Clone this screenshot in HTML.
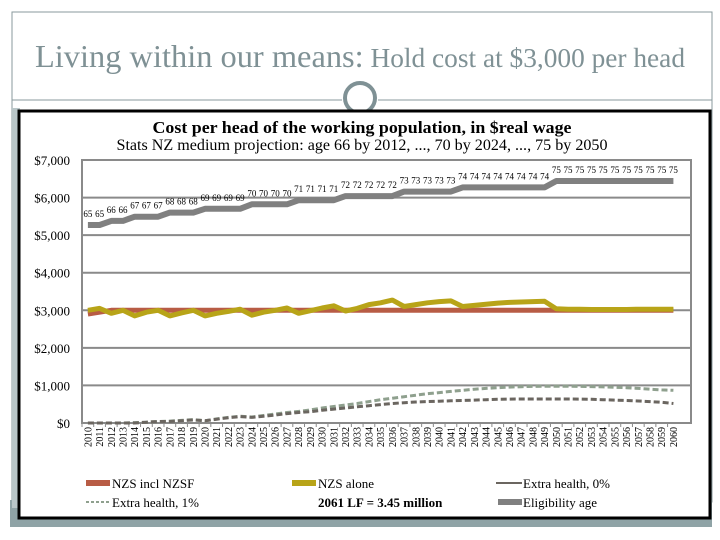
<!DOCTYPE html>
<html><head><meta charset="utf-8"><style>
html,body{margin:0;padding:0;background:#fff;}
svg{display:block;font-family:"Liberation Serif",serif;}
</style></head><body>
<svg id="chart" width="720" height="540" viewBox="0 0 720 540" xmlns="http://www.w3.org/2000/svg">
  <rect x="12" y="12" width="700" height="490" fill="none" stroke="#8a9a9c" stroke-width="1"/>
  <rect x="10" y="500" width="702" height="27" fill="#8fa3a6"/>
  <rect x="12" y="108" width="8" height="400" fill="#b9c6c8"/>
  <text x="360" y="67" text-anchor="middle" font-size="32" fill="#7f9195" textLength="650" lengthAdjust="spacingAndGlyphs"><tspan>Living within our means:</tspan><tspan font-size="27"> Hold cost at $3,000 per head</tspan></text>
  <line x1="12" y1="100" x2="342" y2="100" stroke="#8a9a9c" stroke-width="1"/>
  <line x1="378" y1="100" x2="712" y2="100" stroke="#8a9a9c" stroke-width="1"/>
  <circle cx="360" cy="98" r="15" fill="#fff" stroke="#7f9195" stroke-width="4"/>
  <rect x="19" y="111" width="691" height="407" fill="#fff" stroke="#000" stroke-width="3"/>
  <text x="362" y="133" text-anchor="middle" font-size="17" font-weight="bold" fill="#000" textLength="419" lengthAdjust="spacingAndGlyphs">Cost per head of the working population, in $real wage</text>
  <text x="362" y="150" text-anchor="middle" font-size="16" fill="#000" textLength="491" lengthAdjust="spacingAndGlyphs">Stats NZ medium projection: age 66 by 2012, ..., 70 by 2024, ..., 75 by 2050</text>
  <g id="grid"></g>
  <g id="xaxis"></g>
  <g id="series"></g>
  <g id="legend" font-size="13">
    <rect x="86" y="480" width="24" height="6" fill="#b85c45"/>
    <text x="112" y="488">NZS incl NZSF</text>
    <rect x="292" y="480" width="24" height="6" fill="#b8a418"/>
    <text x="318" y="488">NZS alone</text>
    <line x1="496" y1="483" x2="522" y2="483" stroke="#6b6660" stroke-width="2"/>
    <text x="523" y="488">Extra health, 0%</text>
    <line x1="86" y1="502" x2="110" y2="502" stroke="#8fa08e" stroke-width="2" stroke-dasharray="3,2"/>
    <text x="112" y="507">Extra health, 1%</text>
    <text x="318" y="507" font-weight="bold">2061 LF = 3.45 million</text>
    <rect x="498" y="499" width="24" height="6" fill="#808080"/>
    <text x="523" y="507">Eligibility age</text>
  </g>
</svg>
<script>
const years = [];
for (let y = 2010; y <= 2060; y++) years.push(y);
const yTicks = [0,1000,2000,3000,4000,5000,6000,7000];
const yTickLabels = ["$0","$1,000","$2,000","$3,000","$4,000","$5,000","$6,000","$7,000"];
const nzsInclNzsf = [2900,2950,3000,3000,3000,3000,3000,3000,3000,3000,3000,3000,3000,3000,3000,3000,3000,3000,3000,3000,3000,3000,3000,3000,3000,3000,3000,3000,3000,3000,3000,3000,3000,3000,3000,3000,3000,3000,3000,3000,3000,3000,3000,3000,3000,3000,3000,3000,3000,3000,3000];
const nzsAlone = [3000,3050,2920,3000,2850,2950,3000,2850,2930,3000,2850,2920,2970,3030,2870,2950,3000,3060,2920,2990,3060,3120,2980,3050,3150,3200,3270,3100,3150,3200,3230,3250,3100,3130,3160,3190,3210,3220,3230,3240,3040,3030,3030,3020,3020,3020,3020,3030,3030,3030,3030];
const extraHealth0 = [0,0,0,0,0,20,40,40,60,80,60,100,140,170,150,180,210,250,280,300,340,370,400,430,460,490,520,540,560,570,580,590,600,610,620,630,635,640,640,640,640,640,635,630,620,610,600,585,570,550,520];
const extraHealth1 = [0,0,0,0,10,20,40,50,70,90,60,110,150,180,160,200,240,280,310,350,400,440,480,520,570,620,660,700,740,780,810,840,870,900,920,940,955,965,975,980,980,980,975,970,960,950,940,920,900,880,870];
const eligibilityAge = [65,65,66,66,67,67,67,68,68,68,69,69,69,69,70,70,70,70,71,71,71,71,72,72,72,72,72,73,73,73,73,73,74,74,74,74,74,74,74,74,75,75,75,75,75,75,75,75,75,75,75];
const eligibilityCost = [5270,5270,5380,5380,5490,5490,5490,5600,5600,5600,5700,5700,5700,5700,5820,5820,5820,5820,5930,5930,5930,5930,6040,6040,6040,6040,6040,6160,6160,6160,6160,6160,6270,6270,6270,6270,6270,6270,6270,6270,6440,6440,6440,6440,6440,6440,6440,6440,6440,6440,6440];

const NS = "http://www.w3.org/2000/svg";
const plotL = 82, plotR = 691, plotTop = 160, plotBot = 423;
const band = (plotR - plotL) / 52;
function xPos(i){ return plotL + band * (i + 0.5); }
function yPos(v){ return plotBot - (v / 7000) * (plotBot - plotTop); }
function mk(tag, attrs, parent){ const e = document.createElementNS(NS, tag); for (const k in attrs) e.setAttribute(k, attrs[k]); parent.appendChild(e); return e; }

const grid = document.getElementById('grid');
yTicks.forEach((t, i) => {
  const ln = mk('line', {x1: plotL, x2: plotR, y1: yPos(t), y2: yPos(t), stroke: '#8a8a8a', 'stroke-width': 2}, grid);
  
  
  const tx = mk('text', {x: 70, y: yPos(t) + 5, 'text-anchor': 'end', 'font-size': 13}, grid);
  tx.textContent = yTickLabels[i];
  
  
});
const frame = mk('rect', {x: plotL, y: plotTop, width: plotR - plotL, height: plotBot - plotTop, fill: 'none', stroke: '#8a8a8a', 'stroke-width': 2}, grid);



const xa = document.getElementById('xaxis');
years.forEach((yr, i) => {
  const tk = mk('line', {x1: plotL + band * i, x2: plotL + band * i, y1: plotBot, y2: plotBot + 4, stroke: '#8a8a8a'}, xa);
  
  
  const x = xPos(i) + 3.5;
  const tx = mk('text', {x: x, y: plotBot + 4, 'text-anchor': 'end', 'font-size': 10, transform: 'rotate(-90 ' + x + ' ' + (plotBot + 4) + ')'}, xa);
  tx.textContent = yr;
  
  
});

const ser = document.getElementById('series');
function line(vals, color, w, dash, name){
  const d = vals.map((v, i) => (i ? 'L' : 'M') + xPos(i).toFixed(1) + ' ' + yPos(v).toFixed(1)).join(' ');
  const p = mk('path', {d: d, fill: 'none', stroke: color, 'stroke-width': w, 'stroke-linejoin': 'round'}, ser);
  if (dash) p.setAttribute('stroke-dasharray', dash);
  
  
}
line(eligibilityCost, '#808080', 6, null, 'series-eligibility-age');
line(extraHealth1, '#8fa08e', 3, '6,3', 'series-extra-health-1');
line(extraHealth0, '#6b6660', 3, '6,3', 'series-extra-health-0');
line(nzsInclNzsf, '#b85c45', 5, null, 'series-nzs-incl-nzsf');
line(nzsAlone, '#b8a418', 5, null, 'series-nzs-alone');
eligibilityAge.forEach((a, i) => {
  const tx = mk('text', {x: xPos(i), y: yPos(eligibilityCost[i]) - 8, 'text-anchor': 'middle', 'font-size': 9}, ser);
  tx.textContent = a;
  
  
});
</script>
</body></html>
